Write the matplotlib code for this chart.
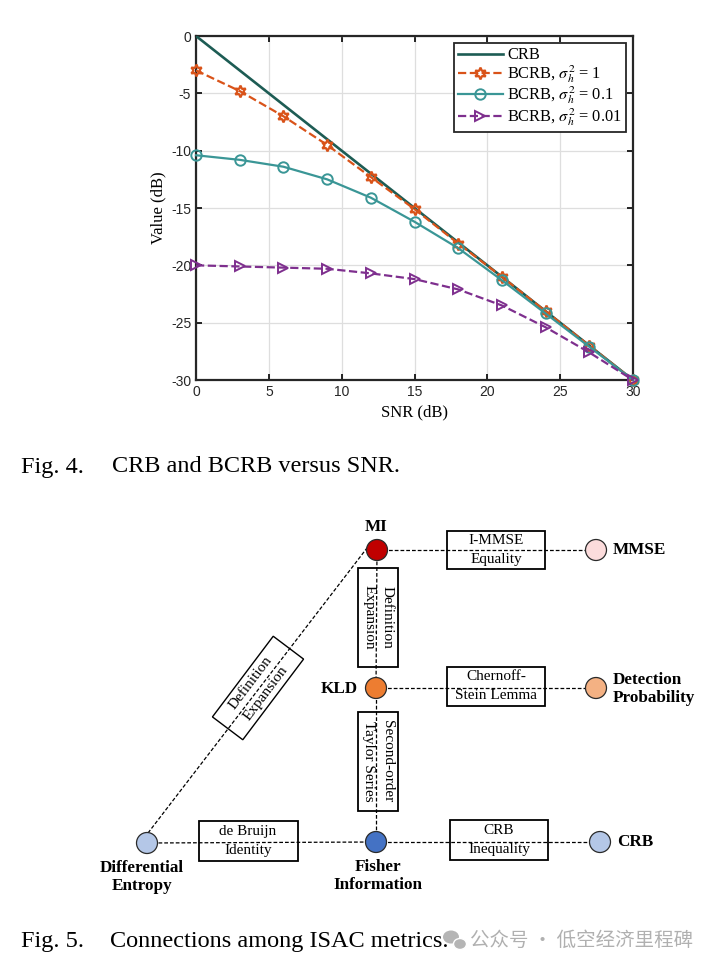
import matplotlib
matplotlib.use('Agg')
import matplotlib.pyplot as plt
from matplotlib.patches import Rectangle, Circle, Ellipse

plt.rcParams['font.family'] = ['Liberation Serif', 'DejaVu Serif']
plt.rcParams['mathtext.fontset'] = 'stix'

# ---- Fig. 4 data ----
snr = [0, 3, 6, 9, 12, 15, 18, 21, 24, 27, 30]
crb = [0, -3, -6, -9, -12, -15, -18, -21, -24, -27, -30]
bcrb_1 = [-3.0, -4.8, -7.0, -9.5, -12.3, -15.1, -18.1, -21.0, -24.0, -27.0, -30.0]
bcrb_01 = [-10.4, -10.8, -11.4, -12.5, -14.1, -16.2, -18.5, -21.3, -24.2, -27.1, -30.0]
bcrb_001 = [-20.0, -20.1, -20.2, -20.3, -20.7, -21.2, -22.1, -23.5, -25.4, -27.6, -30.0]
xticks = [0, 5, 10, 15, 20, 25, 30]
yticks = [0, -5, -10, -15, -20, -25, -30]
ytick_labels = ['0', '-5', '-10', '-15', '-20', '-25', '-30']

# ---- Fig. 5 diagram (pixel layout) ----
node_names = ['MI', 'MMSE', 'KLD', 'Detection\nProbability',
              'Differential\nEntropy', 'Fisher\nInformation', 'CRB']
node_x = [377, 596, 376, 596, 147, 376, 600]
node_y = [550, 550, 688, 688, 843, 842, 842]
node_colors = ['#c00000', '#fcdcdc', '#ed7d31', '#f4b183',
               '#b4c7e7', '#4472c4', '#b4c7e7']
# label position and alignment
label_xy = [(376, 527), (613, 550), (358, 689), (613, 689),
            (142, 877), (378, 876), (617, 842)]
label_ha = ['center', 'left', 'right', 'left', 'center', 'center', 'left']

edges = [(0, 1), (0, 2), (2, 5), (2, 3), (4, 5), (5, 6)]

box_text = ['I-MMSE\nEquality', 'Definition\nExpansion', 'Chernoff-\nStein Lemma',
            'Second-order\nTaylor Series', 'de Bruijn\nIdentity', 'CRB\nInequality',
            'Definition\nExpansion']
box_cx = [496, 378, 496, 378, 248, 499, 258]
box_cy = [550, 617, 686, 761, 841, 840, 688]
box_w = [98, 40, 98, 40, 99, 98, 101]
box_h = [38, 99, 39, 99, 40, 40, 38]
box_rot = [0, -90, 0, -90, 0, 0, 53]

fig = plt.figure(figsize=(7.1, 9.66), dpi=100)

# canvas in pixel coordinates for the diagram and captions
axd = fig.add_axes([0, 0, 1, 1])
axd.set_xlim(0, 710)
axd.set_ylim(966, 0)
axd.axis('off')

dash = dict(color='black', lw=0.9, ls=(0, (3, 1.6)), zorder=1)
for a, b in edges:
    axd.plot([node_x[a], node_x[b]], [node_y[a], node_y[b]], **dash)
# diagonal edge: from top of Differential Entropy to upper-left of MI
axd.plot([node_x[4] + 1, node_x[0] - 10], [node_y[4] - 10, node_y[0] - 2], **dash)

for i in range(len(box_text)):
    w, h = box_w[i], box_h[i]
    if box_rot[i] in (0, -90):
        rect = Rectangle((box_cx[i] - w / 2, box_cy[i] - h / 2), w, h,
                         fill=False, ec='black', lw=1.3, zorder=2)
    else:
        rect = Rectangle((box_cx[i] - w / 2, box_cy[i] - h / 2), w, h,
                         angle=-box_rot[i], rotation_point='center',
                         fill=False, ec='black', lw=1.0, zorder=2)
    axd.add_patch(rect)
    axd.text(box_cx[i], box_cy[i], box_text[i], rotation=box_rot[i],
             ha='center', va='center', fontsize=11, linespacing=1.55,
             multialignment='center', zorder=3)

for i in range(len(node_names)):
    axd.add_patch(Circle((node_x[i], node_y[i]), 10.5, fc=node_colors[i],
                         ec='#2a2a2a', lw=0.9, zorder=4))
    axd.text(label_xy[i][0], label_xy[i][1], node_names[i], ha=label_ha[i],
             va='center', fontsize=12.3, fontweight='bold', linespacing=1.15,
             multialignment=label_ha[i], zorder=5)

# captions
axd.text(21, 467, 'Fig. 4.', fontsize=17.5, ha='left', va='center')
axd.text(112, 467, 'CRB and BCRB versus SNR.', fontsize=17.5, ha='left', va='center')
axd.text(21, 941, 'Fig. 5.', fontsize=17.5, ha='left', va='center')
axd.text(110, 941, 'Connections among ISAC metrics.', fontsize=17.5,
         ha='left', va='center')

# watermark
axd.add_patch(Ellipse((451, 937), 16, 13, fc='#b5b5b5', ec='none', zorder=6))
axd.add_patch(Ellipse((460, 944), 13, 11, fc='#b5b5b5', ec='white', lw=1, zorder=7))
axd.text(470, 940, '公众号 · 低空经济里程碑', fontsize=14, color='#b0b0b0',
         family=['Noto Sans CJK SC', 'DejaVu Sans'], ha='left', va='center')

# ---- Fig. 4 chart ----
ax = fig.add_axes([196 / 710, 1 - 380 / 966, 437 / 710, 344 / 966])
ax.plot(snr, crb, color='#1d5c54', lw=1.9, label='CRB', zorder=3)
ax.plot(snr, bcrb_1, ls='--', color='#d95319', lw=1.6, marker=(6, 1, 0),
        ms=8.5, mfc='none', mew=1.6, label=r'BCRB, $\sigma_h^2$ = 1',
        clip_on=False, zorder=4)
ax.plot(snr, bcrb_01, ls='-', color='#3a9696', lw=1.6, marker='o',
        ms=7.5, mfc='none', mew=1.4, label=r'BCRB, $\sigma_h^2$ = 0.1',
        clip_on=False, zorder=4)
ax.plot(snr, bcrb_001, ls='--', color='#7e2f8e', lw=1.6, marker='>',
        ms=7.5, mfc='none', mew=1.4, label=r'BCRB, $\sigma_h^2$ = 0.01',
        clip_on=False, zorder=4)

ax.set_xlim(0, 30)
ax.set_ylim(-30, 0)
ax.set_xticks(xticks)
ax.set_yticks(yticks)
ax.set_yticklabels(ytick_labels)
for lab in ax.get_xticklabels() + ax.get_yticklabels():
    lab.set_family('Liberation Sans')
    lab.set_fontsize(10)
    lab.set_color('#262626')
ax.tick_params(direction='in', top=True, right=True, length=4, width=1.2)
ax.grid(True, color='#dedede', lw=0.9)
ax.set_axisbelow(True)
for s in ax.spines.values():
    s.set_linewidth(1.6)
    s.set_color('#262626')
ax.set_xlabel('SNR (dB)', fontsize=12, labelpad=4)
ax.set_ylabel('Value (dB)', fontsize=12, labelpad=3)

leg = ax.legend(loc='upper right', fontsize=11.8, handlelength=2.75,
                handletextpad=0.25, labelspacing=0.0, borderpad=0.25,
                borderaxespad=0.45, fancybox=False, framealpha=1)
leg.get_frame().set_edgecolor('#262626')
leg.get_frame().set_linewidth(1.3)

fig.savefig('out.png', dpi=100)
